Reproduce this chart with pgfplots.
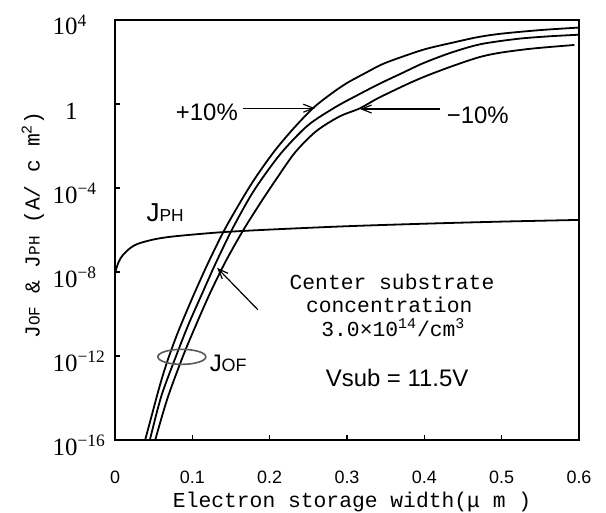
\documentclass[border=0pt]{standalone}
\usepackage{fontspec}
\setmainfont{Liberation Sans}
\newfontfamily\seriffont{Liberation Serif}
\newfontfamily\monofont{Liberation Mono}
\usepackage{pgfplots}
\pgfplotsset{compat=1.18}
\usepackage{pgfplotstable}
\usetikzlibrary{arrows.meta}

% log10 of J (A/cm^2) against electron storage width (um)
\pgfplotstableread{
x     lg
0.034 -16.7
0.039 -16.0
0.047 -14.9
0.055 -13.8
0.062 -12.9
0.070 -12.0
0.080 -11.0
0.090 -10.1
0.104 -8.9
0.120 -7.6
0.140 -6.1
0.160 -4.8
0.180 -3.6
0.205 -2.3
0.230 -1.2
0.256 -0.2
0.280 0.5
0.300 1.0
0.325 1.5
0.343 1.85
0.360 2.1
0.400 2.6
0.440 2.95
0.470 3.19
0.500 3.35
0.550 3.52
0.600 3.64
}\jofplus

\pgfplotstableread{
x     lg
0.040 -16.7
0.045 -16.0
0.060 -13.9
0.079 -12.0
0.095 -10.5
0.113 -9.0
0.130 -7.6
0.151 -6.0
0.175 -4.4
0.195 -3.3
0.218 -2.2
0.250 -1.0
0.285 -0.15
0.315 0.45
0.343 0.98
0.370 1.45
0.399 1.95
0.435 2.45
0.473 2.85
0.520 3.10
0.560 3.22
0.600 3.30
}\jofmid

\pgfplotstableread{
x     lg
0.047 -16.7
0.052 -16.0
0.068 -14.0
0.088 -12.0
0.105 -10.5
0.123 -9.0
0.143 -7.5
0.166 -6.0
0.190 -4.6
0.210 -3.5
0.233 -2.3
0.260 -1.3
0.290 -0.6
0.317 -0.2
0.343 0.33
0.400 1.30
0.473 2.25
0.530 2.60
0.594 2.81
}\jofminus

\pgfplotstableread{
x     lg
0.000 -8.1
0.002 -7.8
0.005 -7.5
0.010 -7.2
0.020 -6.85
0.030 -6.65
0.050 -6.45
0.070 -6.33
0.100 -6.22
0.140 -6.10
0.200 -5.98
0.300 -5.82
0.400 -5.70
0.500 -5.60
0.600 -5.52
}\jph

\begin{document}
\begin{tikzpicture}
\begin{axis}[
  at={(57.5bp,36.5bp)}, anchor=south west,
  scale only axis, width=232bp, height=210bp,
  clip mode=individual,
  xmin=0, xmax=0.6,
  ymode=log, ymin=1e-16, ymax=1e4,
  xtick={0,0.1,0.2,0.3,0.4,0.5,0.6},
  xticklabels={0,0.1,0.2,0.3,0.4,0.5,0.6},
  ytick={1e-16,1e-12,1e-8,1e-4,1,1e4},
  yticklabels={
    {\seriffont 10\rlap{\textsuperscript{−16}}},
    {\seriffont 10\rlap{\textsuperscript{−12}}},
    {\seriffont 10\rlap{\textsuperscript{−8}}},
    {\seriffont 10\rlap{\textsuperscript{−4}}},
    {\seriffont 1},
    {\seriffont 10\rlap{\textsuperscript{4}}}},
  minor ytick={},
  tick pos=left, tick align=inside, major tick length=2.5bp,
  axis line style={line width=1bp},
  tick style={line width=0.6bp, black},
  xticklabel style={font=\fontsize{9}{9}\selectfont, yshift=-12bp},
  yticklabel style={font=\fontsize{12.5}{12.5}\selectfont, anchor=base east,
    inner sep=0pt, xshift=-18.5bp, yshift=-7.5bp},
]
\addplot[black, line width=0.9bp, smooth] table[x=x, y expr=10^(\thisrow{lg})] {\jofplus};
\addplot[black, line width=0.9bp, smooth] table[x=x, y expr=10^(\thisrow{lg})] {\jofmid};
\addplot[black, line width=0.9bp, smooth] table[x=x, y expr=10^(\thisrow{lg})] {\jofminus};
\addplot[black, line width=0.9bp, smooth] table[x=x, y expr=10^(\thisrow{lg})] {\jph};

\draw[black!65, line width=0.8bp] (rel axis cs:0.144,0.198) ellipse [x radius=12bp, y radius=3.75bp];
\draw[-{Straight Barb[length=5bp,width=4bp]}, line width=0.6bp]
  (rel axis cs:0.276,0.790) -- (rel axis cs:0.431,0.790);
\draw[-{Straight Barb[length=5bp,width=4bp]}, line width=0.6bp]
  (rel axis cs:0.700,0.788) -- (rel axis cs:0.528,0.788);
\draw[-{Straight Barb[length=5bp,width=4bp]}, line width=0.6bp]
  (rel axis cs:0.308,0.310) -- (rel axis cs:0.220,0.410);

\node[font=\fontsize{12}{12}\selectfont] at (rel axis cs:0.198,0.781) {+10\%};
\node[font=\fontsize{12}{12}\selectfont] at (rel axis cs:0.782,0.774) {−10\%};
\node at (rel axis cs:0.108,0.540) {\fontsize{13}{13}\selectfont J\fontsize{8.7}{8.7}\selectfont PH};
\node at (rel axis cs:0.244,0.183) {\fontsize{12}{12}\selectfont J\fontsize{9}{9}\selectfont OF};
\node[font=\monofont\fontsize{10.7}{10.7}\selectfont] at (rel axis cs:0.597,0.376) {Center substrate};
\node[font=\monofont\fontsize{10.7}{10.7}\selectfont] at (rel axis cs:0.591,0.321) {concentration};
\node[font=\monofont\fontsize{10.7}{10.7}\selectfont] at (rel axis cs:0.600,0.267) {3.0×10\textsuperscript{14}/cm\textsuperscript{3}};
\node[font=\fontsize{12}{12}\selectfont] at (rel axis cs:0.608,0.148) {Vsub = 11.5V};

\node[font=\monofont\fontsize{10.7}{10.7}\selectfont] at (rel axis cs:0.511,-0.148) {Electron storage width(μ m )};
\node[font=\monofont\fontsize{10.7}{10.7}\selectfont, rotate=90] at (rel axis cs:-0.177,0.512)
  {J{\fontsize{8}{8}\selectfont OF} \& J{\fontsize{8}{8}\selectfont PH} (A/ c m\textsuperscript{2})};
\end{axis}
\pgfresetboundingbox
\useasboundingbox (0,0) rectangle (303bp,256.5bp);
\end{tikzpicture}
\end{document}
